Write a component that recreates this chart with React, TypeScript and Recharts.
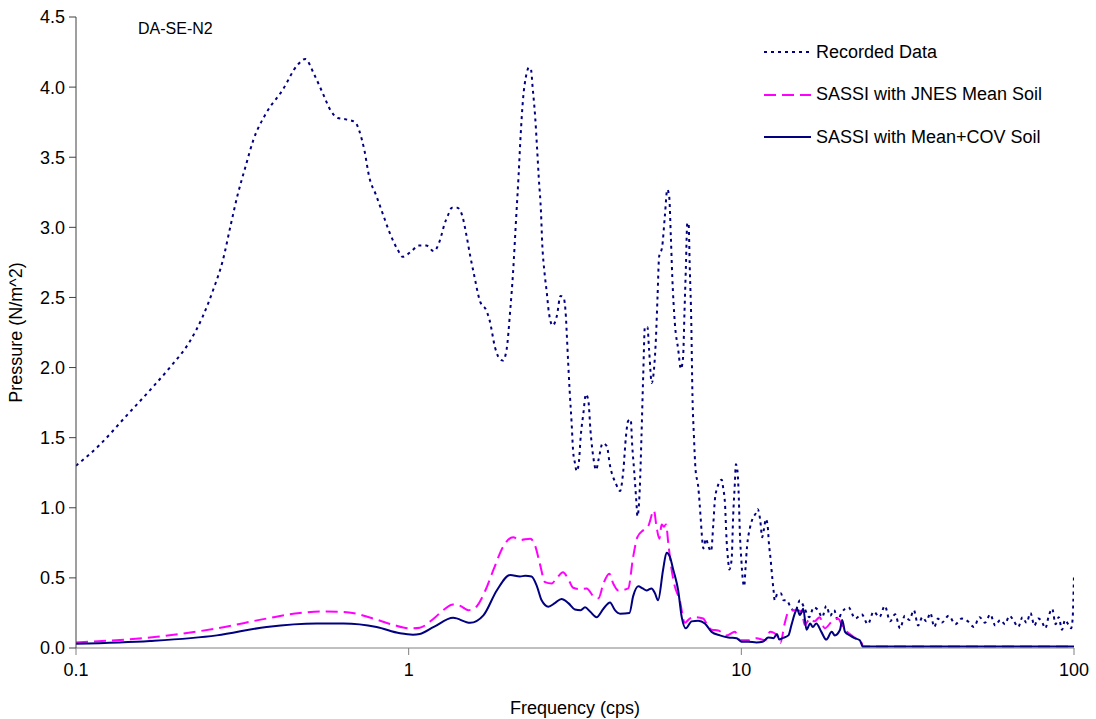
import { LineChart, Line, XAxis, YAxis } from "recharts";

// Recorded Data (dotted navy)
const recFreq = [
  0.1, 0.118, 0.141, 0.17, 0.193, 0.219, 0.24, 0.259, 0.276, 0.292, 0.306, 0.323, 0.341, 0.372, 0.418, 0.464,
  0.489, 0.52, 0.551, 0.584, 0.612, 0.648, 0.691, 0.71, 0.736, 0.761, 0.798, 0.835, 0.874, 0.927, 0.959, 1.02,
  1.07, 1.13, 1.19, 1.23, 1.26, 1.28, 1.31, 1.35, 1.4, 1.45, 1.49, 1.53, 1.57, 1.64, 1.71, 1.75, 1.82, 1.88,
  1.92, 1.97, 2.02, 2.06, 2.1, 2.14, 2.17, 2.21, 2.25, 2.3, 2.33, 2.36, 2.4, 2.43, 2.46, 2.5, 2.52, 2.56, 2.6,
  2.64, 2.71, 2.79, 2.86, 2.92, 2.97, 2.99, 3.02, 3.05, 3.09, 3.12, 3.16, 3.2, 3.25, 3.29, 3.35, 3.41, 3.47,
  3.52, 3.59, 3.66, 3.72, 3.83, 3.94, 4.03, 4.2, 4.32, 4.42, 4.5, 4.57, 4.65, 4.7, 4.76, 4.84, 4.87, 4.95, 5.01,
  5.07, 5.13, 5.22, 5.28, 5.38, 5.46, 5.54, 5.6, 5.66, 5.78, 5.89, 5.99, 6.07, 6.14, 6.2, 6.31, 6.46, 6.58,
  6.68, 6.75, 6.81, 6.88, 6.94, 7.0, 7.07, 7.13, 7.2, 7.28, 7.42, 7.55, 7.6, 7.69, 7.83, 7.95, 8.11, 8.24,
  8.33, 8.46, 8.73, 8.82, 8.93, 9.03, 9.13, 9.2, 9.35, 9.45, 9.56, 9.63, 9.74, 9.83, 9.9, 10.0, 10.1, 10.2,
  10.3, 10.4, 10.6, 10.8, 11.05, 11.2, 11.4, 11.55, 11.7, 11.85, 12.0, 12.1, 12.25, 12.4, 12.5, 12.6, 12.85,
  13.15, 13.4, 13.7,
  14.0, 14.5, 15.0, 15.5, 16.0, 16.5, 17.0, 17.5, 18.0, 18.5, 19.0, 19.5, 20, 21, 22, 23, 24, 25, 26, 27, 28,
  29, 30, 31, 32, 33, 34, 35, 36, 37, 38, 39, 40, 42, 44, 46, 48, 50, 52, 54, 56, 58, 60, 62, 64, 66, 68, 70,
  72, 74, 76, 78, 80, 82, 84, 86, 88, 90, 92, 94, 96, 98, 99, 100,
];
const recVal = [
  1.3, 1.45, 1.65, 1.86, 2.01, 2.18, 2.36, 2.56, 2.76, 3.02, 3.23, 3.43, 3.62, 3.81, 3.98, 4.16,
  4.2, 4.09, 3.96, 3.83, 3.78, 3.77, 3.75, 3.69, 3.55, 3.36, 3.23, 3.1, 2.97, 2.84, 2.79, 2.83,
  2.87, 2.87, 2.83, 2.88, 2.96, 3.02, 3.08, 3.14, 3.14, 3.08, 2.95, 2.8, 2.67, 2.47, 2.41, 2.34, 2.14, 2.06,
  2.05, 2.13, 2.41, 2.68, 3.03, 3.37, 3.65, 3.93, 4.07, 4.14, 4.13, 3.99, 3.79, 3.58, 3.36, 3.1, 2.89, 2.68, 2.54,
  2.39, 2.3, 2.37, 2.51, 2.5, 2.36, 2.22, 2.01, 1.82, 1.6, 1.41, 1.32, 1.26, 1.33, 1.51, 1.67, 1.81, 1.76,
  1.55, 1.36, 1.27, 1.34, 1.46, 1.44, 1.3, 1.17, 1.12, 1.27, 1.51, 1.62, 1.63, 1.44, 1.27, 1.03, 0.94, 1.13, 1.51,
  1.94, 2.29, 2.29, 2.13, 1.89, 1.98, 2.22, 2.51, 2.79, 2.86, 3.08, 3.27, 3.22, 2.93, 2.65, 2.32, 2.13, 1.99,
  2.07, 2.41, 2.7, 3.03, 3.03, 2.7, 2.34, 1.8, 1.52, 1.28, 1.15, 0.92, 0.82, 0.71, 0.78, 0.73, 0.69, 0.89,
  1.06, 1.14, 1.2, 1.14, 1.03, 0.77, 0.62, 0.56, 0.63, 0.94, 1.17, 1.31, 1.26, 1.06, 0.82, 0.63, 0.49, 0.44,
  0.58, 0.72, 0.85, 0.92, 0.96, 0.99, 0.91, 0.79, 0.85, 0.92, 0.87, 0.75, 0.63, 0.49, 0.41, 0.34, 0.39,
  0.39, 0.34, 0.34,
  0.3, 0.26, 0.34, 0.28, 0.22, 0.29, 0.27, 0.22, 0.3, 0.23, 0.27, 0.2, 0.25, 0.29, 0.21, 0.24, 0.17, 0.26, 0.22, 0.3, 0.19,
  0.24, 0.14, 0.23, 0.2, 0.27, 0.16, 0.22, 0.19, 0.25, 0.15, 0.21, 0.18, 0.23, 0.17, 0.21, 0.19, 0.15, 0.22, 0.18, 0.24, 0.16, 0.2, 0.17, 0.23, 0.19, 0.15, 0.22,
  0.18, 0.25, 0.16, 0.21, 0.19, 0.14, 0.23, 0.28, 0.17, 0.22, 0.13, 0.2, 0.17, 0.14, 0.2, 0.52,
];

// SASSI with JNES Mean Soil (dashed magenta)
const meanFreq = [
  0.1, 0.175, 0.265, 0.374, 0.471, 0.541, 0.651, 0.783, 0.899, 1.01, 1.08, 1.19, 1.27, 1.36, 1.43, 1.51, 1.59,
  1.7, 1.8, 1.92, 2.06, 2.16, 2.32, 2.4, 2.48, 2.57, 2.69, 2.79, 2.91, 3.02, 3.12, 3.27, 3.43, 3.59, 3.72, 3.85,
  4.01, 4.12, 4.27, 4.57, 4.73, 4.87, 5.07, 5.25, 5.46, 5.56, 5.67, 5.76, 5.85, 5.94, 6.03, 6.17, 6.31, 6.53,
  6.76, 7.0, 7.25, 7.68, 7.86, 8.14, 8.52, 9.03, 9.57, 9.9, 10.5, 11.1, 11.8, 12.2, 12.8, 13.1, 13.5, 13.8,
  14.2, 14.7, 15.2, 15.5, 16.1, 16.6, 17.2, 17.8, 18.9, 19.5, 20.2, 21.7, 23.0, 23.2, 100,
];
const meanVal = [
  0.04, 0.08, 0.14, 0.21, 0.25, 0.26, 0.255, 0.21, 0.165, 0.14, 0.145, 0.21, 0.27, 0.31, 0.3, 0.27, 0.29,
  0.41, 0.56, 0.72, 0.79, 0.77, 0.78, 0.73, 0.6, 0.47, 0.46, 0.5, 0.54, 0.49, 0.43, 0.42, 0.425, 0.37, 0.355, 0.46,
  0.53, 0.46, 0.41, 0.425, 0.65, 0.79, 0.84, 0.87, 0.98, 0.865, 0.78, 0.88, 0.865, 0.88, 0.75, 0.56, 0.44, 0.34,
  0.18, 0.21, 0.22, 0.21, 0.175, 0.13, 0.125, 0.09, 0.115, 0.055, 0.055, 0.07, 0.055, 0.115, 0.09, 0.035, 0.175, 0.25,
  0.27, 0.27, 0.26, 0.165, 0.21, 0.19, 0.22, 0.14, 0.2, 0.21, 0.15, 0.08, 0.035, 0.01, 0.01,
];

// SASSI with Mean+COV Soil (solid navy)
const covFreq = [
  0.1, 0.167, 0.265, 0.374, 0.529, 0.636, 0.801, 0.942, 1.03, 1.08, 1.19, 1.36, 1.53, 1.68, 1.84, 2.02, 2.16,
  2.24, 2.34, 2.43, 2.51, 2.63, 2.75, 2.88, 3.02, 3.16, 3.29, 3.39, 3.51, 3.67, 3.85, 4.03, 4.17, 4.32, 4.61,
  4.73, 4.9, 5.05, 5.19, 5.37, 5.5, 5.62, 5.82, 5.96, 6.1, 6.24, 6.46, 6.62, 6.81, 7.09, 7.42, 7.77, 8.14, 8.62,
  9.14, 9.68, 10.0, 10.5, 11.1, 11.6, 12.05, 12.5, 12.8, 13.0, 13.3, 13.85, 14.15, 14.5, 14.7, 15.0, 15.35,
  15.7, 16.1, 16.4, 16.8, 17.4, 18.0, 18.7, 19.1, 19.8, 20.1, 20.5, 21.2, 21.9, 22.7, 23.2, 100,
];
const covVal = [
  0.03, 0.05, 0.09, 0.15, 0.175, 0.175, 0.15, 0.105, 0.095, 0.1, 0.15, 0.215, 0.18, 0.235, 0.41, 0.52, 0.51,
  0.515, 0.51, 0.44, 0.34, 0.295, 0.32, 0.35, 0.32, 0.275, 0.27, 0.29, 0.26, 0.22, 0.28, 0.325, 0.27, 0.245, 0.25,
  0.37, 0.44, 0.425, 0.41, 0.425, 0.39, 0.34, 0.56, 0.68, 0.65, 0.56, 0.41, 0.22, 0.14, 0.19, 0.195, 0.175, 0.115, 0.09,
  0.075, 0.07, 0.045, 0.045, 0.04, 0.045, 0.075, 0.07, 0.1, 0.06, 0.07, 0.09, 0.165, 0.25, 0.28, 0.235, 0.28,
  0.13, 0.175, 0.15, 0.175, 0.115, 0.06, 0.115, 0.09, 0.13, 0.2, 0.115, 0.09, 0.07, 0.055, 0.01, 0.01,
];

const xTicks = [0.1, 1, 10, 100];
const yTicks = [0, 0.5, 1, 1.5, 2, 2.5, 3, 3.5, 4, 4.5];

const zip = (f: number[], v: number[]) => f.map((x, i) => ({ f: x, v: v[i] }));
const recData = zip(recFreq, recVal);
const meanData = zip(meanFreq, meanVal);
const covData = zip(covFreq, covVal);

const FONT = "'Liberation Sans', Arial, sans-serif";
const NAVY = "#000080";
const MAGENTA = "#FF00FF";

const legendItems = [
  { name: "Recorded Data", color: NAVY, dash: "3 4" },
  { name: "SASSI with JNES Mean Soil", color: MAGENTA, dash: "12 6" },
  { name: "SASSI with Mean+COV Soil", color: NAVY, dash: undefined },
];

// legend drawn as an overlay so it doesn't eat plot height
const LegendBox = () => (
  <div style={{ position: "absolute", left: 764, top: 31, fontFamily: FONT, fontSize: 18, color: "#000" }}>
    {legendItems.map((it) => (
      <div key={it.name} style={{ display: "flex", alignItems: "center", height: 42.5 }}>
        <svg width={52} height={10}>
          <line x1={0} y1={5} x2={47} y2={5} stroke={it.color} strokeWidth={2} strokeDasharray={it.dash} />
        </svg>
        <span>{it.name}</span>
      </div>
    ))}
  </div>
);

export default function App() {
  return (
    <div style={{ position: "absolute", left: 0, top: 0, width: 1096, height: 719, background: "#fff" }}>
      <LineChart width={1096} height={719} margin={{ top: 17, right: 22, left: 16, bottom: 5 }}>
        <XAxis
          dataKey="f"
          type="number"
          scale="log"
          domain={[0.1, 100]}
          ticks={xTicks}
          allowDataOverflow
          height={66}
          stroke="#808080"
          tickSize={7}
          tickMargin={8}
          tick={{ fontSize: 18, fill: "#000", fontFamily: FONT }}
          label={{ value: "Frequency (cps)", position: "insideBottom", offset: 0, fontSize: 18, fill: "#000", fontFamily: FONT }}
        />
        <YAxis
          type="number"
          domain={[0, 4.5]}
          ticks={yTicks}
          width={60}
          stroke="#404040"
          tickSize={7}
          tickMargin={4}
          tickFormatter={(v: number) => v.toFixed(1)}
          tick={{ fontSize: 18, fill: "#000", fontFamily: FONT }}
          label={{ value: "Pressure (N/m^2)", angle: -90, position: "insideLeft", offset: 0, fontSize: 18, fill: "#000", fontFamily: FONT, style: { textAnchor: "middle" } }}
        />
        <Line data={recData} dataKey="v" name="Recorded Data" type="monotone" stroke={NAVY} strokeWidth={2} strokeDasharray="3 4" dot={false} isAnimationActive={false} />
        <Line data={meanData} dataKey="v" name="SASSI with JNES Mean Soil" type="monotone" stroke={MAGENTA} strokeWidth={2} strokeDasharray="12 6" dot={false} isAnimationActive={false} />
        <Line data={covData} dataKey="v" name="SASSI with Mean+COV Soil" type="monotone" stroke={NAVY} strokeWidth={2} dot={false} isAnimationActive={false} />
      </LineChart>
      <LegendBox />
      <div style={{ position: "absolute", left: 138, top: 20, fontFamily: FONT, fontSize: 16, color: "#000" }}>DA-SE-N2</div>
    </div>
  );
}
